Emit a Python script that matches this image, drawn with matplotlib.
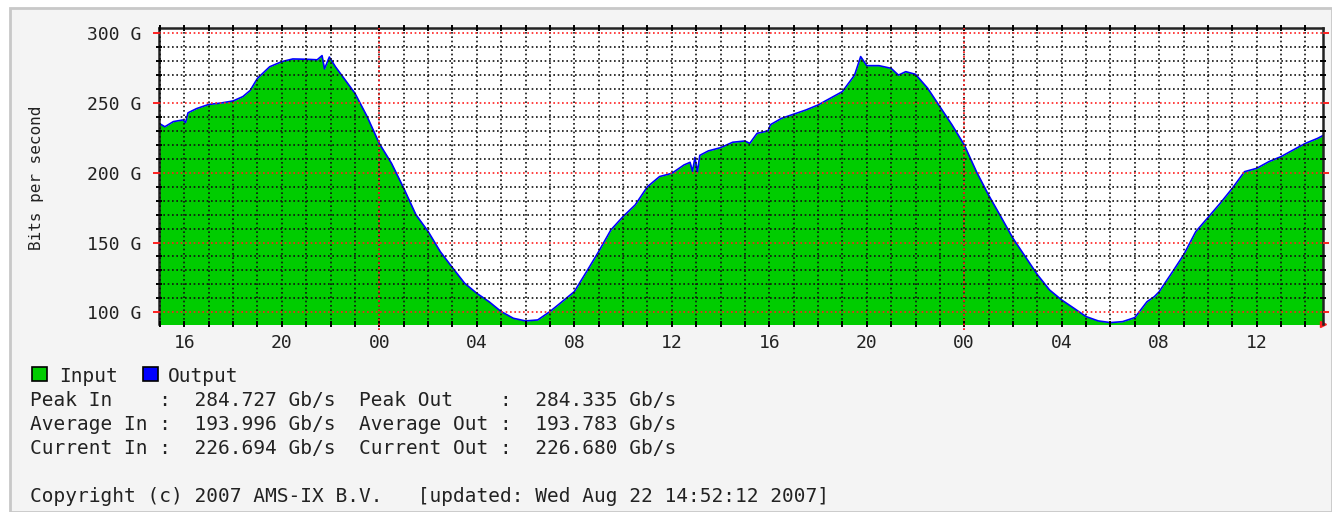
import matplotlib
matplotlib.use("Agg")
import matplotlib.pyplot as plt
from matplotlib.patches import Rectangle
from matplotlib.ticker import MultipleLocator, FixedLocator

# hours relative to midnight Aug 21 (0 = 00:00, 24 = 00:00 Aug 22)
hours = [-9.04, -8.8, -8.45, -8.05, -7.95, -7.85, -7.5, -7.0, -6.5, -6.0, -5.6, -5.3,
         -5.0, -4.5, -4.0, -3.55, -3.0, -2.55, -2.35, -2.25, -2.05, -1.8, -1.45, -1.0,
         -0.5, 0.0, 0.5, 1.0, 1.5, 2.0, 2.5, 3.0, 3.5, 4.0, 4.5, 5.0, 5.5, 6.0, 6.5, 7.0,
         7.5, 8.0, 8.5, 9.0, 9.5, 10.0, 10.5, 11.0, 11.5, 12.0, 12.5, 12.75, 12.85, 12.95,
         13.05, 13.15, 13.5, 14.0, 14.5, 15.0, 15.2, 15.5, 15.95, 16.05, 16.5, 17.0, 17.5,
         18.0, 18.5, 19.0, 19.5, 19.75, 20.0, 20.5, 21.0, 21.3, 21.6, 22.0, 22.5, 23.0,
         23.5, 24.0, 24.5, 25.0, 25.5, 26.0, 26.5, 27.0, 27.5, 28.0, 28.5, 29.0, 29.5,
         30.0, 30.5, 31.0, 31.5, 31.8, 32.0, 32.5, 33.0, 33.5, 34.0, 34.5, 35.0, 35.5,
         36.0, 36.5, 37.0, 37.5, 38.0, 38.5, 38.72]
in_gbps = [235.5, 233.0, 236.7, 237.9, 236.0, 243.0, 246.0, 249.0, 250.0, 251.5, 254.6, 259.0,
           267.7, 276.0, 279.7, 281.6, 281.4, 281.0, 284.0, 274.5, 283.0, 276.0, 267.7, 257.0,
           240.3, 221.0, 206.8, 189.0, 170.0, 158.0, 143.5, 132.0, 120.8, 113.6, 107.6, 100.5, 95.7, 93.8, 94.5, 100.5,
           107.6, 114.8, 129.0, 143.5, 159.0, 168.6, 177.0, 190.0, 197.3, 199.6, 205.6, 207.5, 201.0, 211.0,
           200.5, 212.5, 215.7, 218.0, 221.9, 222.8, 221.1, 228.3, 230.0, 234.5, 239.0, 242.0, 245.0,
           248.6, 253.4, 258.2, 270.0, 283.3, 276.8, 276.8, 274.9, 270.0, 272.5, 270.6, 260.6, 247.4,
           234.3, 220.0, 200.8, 184.0, 168.6, 153.0, 140.0, 127.0, 116.0, 108.8, 102.9, 96.9, 93.8,
           92.6, 93.3, 96.2, 107.6, 111.2, 114.8, 127.8, 141.1, 157.8, 167.9, 178.1, 188.9, 200.8,
           203.2, 208.0, 211.6, 216.4, 221.1, 224.7, 226.7]
# output traces input to within a pixel at this scale
out_gbps = list(in_gbps)

tick_hours = [-8, -4, 0, 4, 8, 12, 16, 20, 24, 28, 32, 36]
tick_labels = ["16", "20", "00", "04", "08", "12", "16", "20", "00", "04", "08", "12"]
midnights = [0, 24]
y_ticks = [100, 150, 200, 250, 300]

stats = [
    "Peak In    :  284.727 Gb/s  Peak Out    :  284.335 Gb/s",
    "Average In :  193.996 Gb/s  Average Out :  193.783 Gb/s",
    "Current In :  226.694 Gb/s  Current Out :  226.680 Gb/s",
]
footer = "Copyright (c) 2007 AMS-IX B.V.   [updated: Wed Aug 22 14:52:12 2007]"

W, H = 1332, 512
mono = "DejaVu Sans Mono"
green = "#00cc00"
blue = "#0000ff"
dots = (0, (1, 1.6))
txt = 14

fig = plt.figure(figsize=(W / 100, H / 100), dpi=100, facecolor="white")
# page panel
fig.add_artist(Rectangle((10 / W, 0), 1 - 10 / W, 1 - 8 / H, transform=fig.transFigure,
                         facecolor="#f4f4f4", edgecolor="#c8c8c8", linewidth=2, zorder=-10))

ax = fig.add_axes([159 / W, 1 - 324 / H, (1323 - 159) / W, (324 - 28) / H])
ax.set_facecolor("white")
ax.fill_between(hours, 0, in_gbps, color=green, linewidth=0, zorder=1)
ax.plot(hours, out_gbps, color=blue, linewidth=1.2, zorder=2)

ax.set_xlim(-9.04, 38.72)
ax.set_ylim(91.6, 303.8)

ax.xaxis.set_major_locator(FixedLocator(tick_hours))
ax.set_xticklabels(tick_labels)
ax.xaxis.set_minor_locator(MultipleLocator(1))
ax.yaxis.set_major_locator(FixedLocator(y_ticks))
ax.set_yticklabels([f"{v} G" for v in y_ticks])
ax.yaxis.set_minor_locator(MultipleLocator(10))

ax.set_axisbelow(False)
ax.grid(which="both", axis="x", color="#111111", linestyle=dots, linewidth=1.2)
ax.grid(which="minor", axis="y", color="#111111", linestyle=dots, linewidth=1.2)
ax.grid(which="major", axis="y", color="#ff2020", linestyle=dots, linewidth=1.2)
for m in midnights:
    ax.axvline(m, ymin=-0.02, ymax=1.0, color="#ff2020", linestyle=dots, linewidth=1.3,
               clip_on=False, zorder=3)

ax.tick_params(axis="x", which="both", direction="inout", length=5, width=1.4,
               color="black", top=True, labelsize=13, pad=5)
ax.tick_params(axis="y", which="minor", direction="inout", length=4, width=1.4,
               color="black", right=True)
ax.tick_params(axis="y", which="major", direction="out", length=4.5, width=1.4,
               color="#ff2020", right=True, labelsize=13, pad=8)
for lab in ax.get_xticklabels() + ax.get_yticklabels():
    lab.set_family(mono)
    lab.set_color("#222222")

for side in ["top", "left", "right"]:
    ax.spines[side].set_color("#222222")
    ax.spines[side].set_linewidth(1.8)
ax.spines["bottom"].set_visible(False)
ax.plot([1.0], [0.0], marker=">", color="#ff2020", markersize=5, transform=ax.transAxes,
        clip_on=False)

fig.text(37 / W, 1 - 178 / H, "Bits per second", rotation=90, ha="center", va="center",
         family=mono, fontsize=11.5, color="#222222")

# legend
fig.add_artist(Rectangle((32 / W, 1 - 381 / H), 15 / W, 14 / H, transform=fig.transFigure,
                         facecolor=green, edgecolor="black", linewidth=1.2))
fig.add_artist(Rectangle((143 / W, 1 - 381 / H), 15 / W, 14 / H, transform=fig.transFigure,
                         facecolor=blue, edgecolor="black", linewidth=1.2))
fig.text(59 / W, 1 - 376 / H, "Input", ha="left", va="center", family=mono, fontsize=txt,
         color="#222222")
fig.text(168 / W, 1 - 376 / H, "Output", ha="left", va="center", family=mono, fontsize=txt,
         color="#222222")

for i, line in enumerate(stats):
    fig.text(30 / W, 1 - (400 + 24 * i) / H, line, ha="left", va="center", family=mono,
             fontsize=txt, color="#222222")
fig.text(30 / W, 1 - 496 / H, footer, ha="left", va="center", family=mono, fontsize=txt,
         color="#222222")

fig.savefig("out.png", dpi=100, facecolor=fig.get_facecolor())
